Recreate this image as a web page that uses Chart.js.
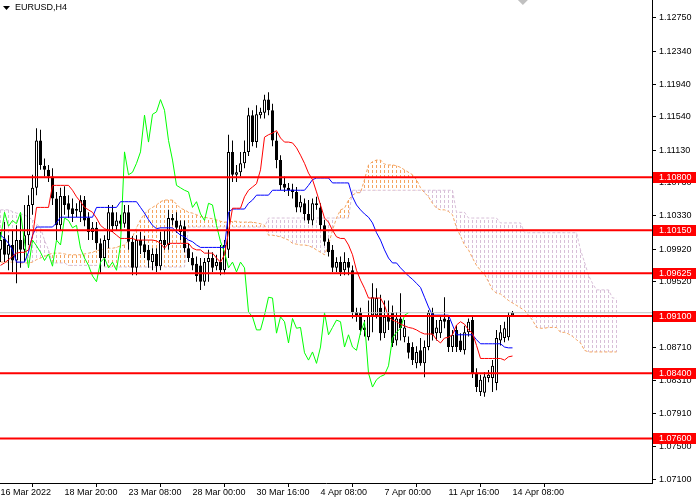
<!DOCTYPE html>
<html><head><meta charset="utf-8">
<script src="https://cdn.jsdelivr.net/npm/chart.js@4.4.1/dist/chart.umd.min.js"></script>
<style>html,body{margin:0;padding:0;background:#fff;overflow:hidden}canvas{display:block}</style>
</head><body>
<canvas id="c" width="700" height="500"></canvas>
<script>
// ---- data (EURUSD, H4) ----
const opens = [1.0991,1.1005,1.0985,1.0997,1.0978,1.1003,1.0991,1.1009,1.1046,1.1067,
 1.1125,1.1094,1.1089,1.1081,1.1054,1.1021,1.1057,1.1048,1.1042,1.1039,
 1.1037,1.1052,1.1030,1.1013,1.1018,1.0999,1.0981,1.1003,1.1037,1.1020,
 1.1027,1.1023,1.1037,1.1001,1.0969,1.1003,1.0998,1.0991,1.0976,1.0986,
 1.0971,1.1003,1.0997,1.1030,1.1027,1.1013,1.1020,1.0993,1.0981,1.0974,
 1.0972,1.0952,1.0976,1.0981,1.0971,1.0976,1.0966,1.0991,1.1111,1.1083,
 1.1086,1.1097,1.1111,1.1156,1.1123,1.1156,1.1159,1.1175,1.1162,1.1125,
 1.1101,1.1072,1.1067,1.1065,1.1062,1.1043,1.1048,1.1035,1.1027,1.1048,
 1.1043,1.1021,1.1001,1.0991,1.0969,1.0976,1.0966,1.0976,1.0966,1.0915,
 1.0914,1.0896,1.0884,1.0911,1.0911,1.0920,1.0889,1.0911,1.0914,1.0880,
 1.0907,1.0884,1.0877,1.0872,1.0852,1.0868,1.0852,1.0872,1.0914,1.0889,
 1.0889,1.0907,1.0905,1.0872,1.0893,1.0880,1.0868,1.0890,1.0905,1.0840,
 1.0817,1.0816,1.0834,1.0834,1.0828,1.0880,1.0883,1.0884,1.0911];
const highs = [1.1013,1.1025,1.1009,1.1015,1.1021,1.1034,1.1046,1.1058,1.1083,1.1140,
 1.1138,1.1103,1.1095,1.1091,1.1062,1.1067,1.1069,1.1058,1.1054,1.1048,
 1.1058,1.1057,1.1037,1.1025,1.1025,1.1005,1.1009,1.1046,1.1046,1.1037,
 1.1034,1.1046,1.1046,1.1008,1.1009,1.1013,1.1008,1.0997,1.0993,1.0993,
 1.1013,1.1015,1.1040,1.1035,1.1037,1.1027,1.1027,1.0999,1.0988,1.0983,
 1.0981,1.0981,1.0991,1.0988,1.0985,1.0997,1.1003,1.1132,1.1125,1.1095,
 1.1111,1.1125,1.1165,1.1162,1.1168,1.1165,1.1181,1.1184,1.1170,1.1135,
 1.1107,1.1081,1.1073,1.1072,1.1068,1.1058,1.1054,1.1052,1.1054,1.1056,
 1.1048,1.1028,1.1005,1.0997,1.0982,1.0983,1.0988,1.0981,1.0972,1.0920,
 1.0920,1.0905,1.0929,1.0950,1.0944,1.0936,1.0929,1.0929,1.0923,1.0915,
 1.0938,1.0905,1.0885,1.0878,1.0873,1.0883,1.0880,1.0917,1.0920,1.0905,
 1.0910,1.0933,1.0911,1.0893,1.0899,1.0889,1.0898,1.0907,1.0911,1.0846,
 1.0838,1.0841,1.0844,1.0856,1.0893,1.0899,1.0903,1.0915,1.0916];
const lows = [1.0976,1.0976,1.0966,1.0964,1.0950,1.0969,1.0976,1.0997,1.1034,1.1058,
 1.1089,1.1081,1.1074,1.1046,1.1003,1.1015,1.1034,1.1030,1.1025,1.1031,
 1.1025,1.1020,1.1003,1.1003,1.0991,1.0963,1.0971,1.0993,1.1013,1.1015,
 1.1015,1.1018,1.0991,1.0960,1.0960,1.0986,1.0981,1.0969,1.0966,1.0964,
 1.0966,1.0991,1.0991,1.1021,1.1012,1.1003,1.0988,1.0976,1.0966,1.0952,
 1.0942,1.0947,1.0952,1.0964,1.0966,1.0960,1.0961,1.0981,1.1074,1.1074,
 1.1081,1.1091,1.1106,1.1118,1.1116,1.1152,1.1152,1.1156,1.1118,1.1091,
 1.1064,1.1062,1.1057,1.1054,1.1037,1.1037,1.1027,1.1023,1.1021,1.1040,
 1.1015,1.0996,1.0983,1.0964,1.0964,1.0959,1.0960,1.0960,1.0907,1.0903,
 1.0887,1.0885,1.0880,1.0890,1.0907,1.0880,1.0883,1.0893,1.0872,1.0874,
 1.0880,1.0878,1.0858,1.0850,1.0846,1.0849,1.0835,1.0868,1.0880,1.0880,
 1.0883,1.0895,1.0866,1.0866,1.0866,1.0866,1.0863,1.0885,1.0834,1.0817,
 1.0812,1.0811,1.0829,1.0817,1.0819,1.0874,1.0878,1.0880,1.0910];
const closes = [1.1003,1.0985,1.0997,1.0978,1.1003,1.0991,1.1009,1.1046,1.1067,1.1125,
 1.1095,1.1089,1.1081,1.1054,1.1021,1.1057,1.1046,1.1040,1.1035,1.1041,
 1.1052,1.1027,1.1013,1.1018,1.0999,1.0981,1.1003,1.1037,1.1020,1.1027,
 1.1023,1.1037,1.1001,1.0969,1.1003,1.0996,1.0988,1.0978,1.0986,1.0971,
 1.1003,1.0997,1.1030,1.1027,1.1018,1.1021,1.0993,1.0981,1.0972,1.0959,
 1.0952,1.0976,1.0981,1.0969,1.0976,1.0966,1.0997,1.1111,1.1083,1.1086,
 1.1097,1.1111,1.1156,1.1123,1.1157,1.1160,1.1175,1.1162,1.1125,1.1101,
 1.1070,1.1067,1.1064,1.1062,1.1043,1.1050,1.1035,1.1027,1.1048,1.1046,
 1.1021,1.1001,1.0988,1.0969,1.0976,1.0964,1.0976,1.0969,1.0915,1.0909,
 1.0893,1.0893,1.0911,1.0933,1.0932,1.0889,1.0909,1.0903,1.0877,1.0907,
 1.0895,1.0896,1.0865,1.0856,1.0866,1.0852,1.0872,1.0914,1.0887,1.0896,
 1.0905,1.0903,1.0872,1.0887,1.0872,1.0868,1.0890,1.0903,1.0840,1.0823,
 1.0832,1.0836,1.0838,1.0849,1.0883,1.0890,1.0895,1.0911,1.0914];
const tenkan = [1.0972,1.0975,1.0979,1.0983,1.0987,1.0988,1.0988,1.0991,1.1007,1.1043,
 1.1043,1.1043,1.1043,1.1070,1.1070,1.1070,1.1070,1.1070,1.1064,1.1056,
 1.1050,1.1043,1.1040,1.1037,1.1030,1.1021,1.1017,1.1015,1.1013,1.1009,
 1.1005,1.1005,1.1005,1.1005,1.1003,1.1003,1.1003,1.1003,1.1003,1.1002,
 1.0999,1.0993,1.0999,1.0999,1.0999,1.0999,1.0999,1.0999,1.0993,1.0991,
 1.0991,1.0987,1.0987,1.0987,1.0981,1.0976,1.0985,1.1013,1.1042,1.1042,
 1.1042,1.1056,1.1064,1.1068,1.1072,1.1089,1.1129,1.1132,1.1134,1.1137,
 1.1128,1.1123,1.1123,1.1122,1.1116,1.1107,1.1097,1.1085,1.1077,1.1062,
 1.1046,1.1030,1.1025,1.1015,1.1007,1.1005,1.1005,1.0997,1.0985,1.0966,
 1.0954,1.0944,1.0932,1.0932,1.0932,1.0932,1.0923,1.0909,1.0905,1.0903,
 1.0900,1.0898,1.0896,1.0895,1.0893,1.0890,1.0888,1.0888,1.0888,1.0881,
 1.0877,1.0883,1.0884,1.0887,1.0899,1.0903,1.0900,1.0893,1.0889,1.0874,
 1.0858,1.0858,1.0858,1.0858,1.0858,1.0858,1.0856,1.0860,1.0861];
const kijun = [1.1009,1.1005,1.0999,1.0991,1.0976,1.0976,1.0976,1.0988,1.1009,1.1019,
 1.1019,1.1019,1.1019,1.1019,1.1024,1.1031,1.1031,1.1031,1.1031,1.1031,
 1.1031,1.1031,1.1031,1.1031,1.1043,1.1043,1.1043,1.1043,1.1043,1.1043,
 1.1050,1.1050,1.1050,1.1050,1.1050,1.1043,1.1036,1.1028,1.1021,1.1017,
 1.1018,1.1018,1.1018,1.1018,1.1013,1.1009,1.1007,1.1003,1.1001,1.0997,
 1.0994,1.0994,1.0994,1.0994,1.0994,1.0994,1.0994,1.1037,1.1041,1.1041,
 1.1041,1.1041,1.1048,1.1052,1.1058,1.1058,1.1058,1.1058,1.1064,1.1064,
 1.1064,1.1064,1.1064,1.1064,1.1064,1.1064,1.1064,1.1070,1.1077,1.1079,
 1.1079,1.1079,1.1079,1.1073,1.1073,1.1073,1.1073,1.1073,1.1056,1.1046,
 1.1040,1.1035,1.1031,1.1024,1.1012,1.1003,1.0991,1.0981,1.0975,1.0975,
 1.0969,1.0964,1.0959,1.0955,1.0950,1.0945,1.0933,1.0921,1.0911,1.0911,
 1.0911,1.0911,1.0911,1.0899,1.0887,1.0887,1.0887,1.0887,1.0887,1.0881,
 1.0876,1.0876,1.0876,1.0876,1.0876,1.0876,1.0872,1.0871,1.0871];
const senkouA = [1.0976,1.0976,1.0976,1.0976,1.0976,1.0975,1.0975,1.0975,1.0976,1.0979,
 1.0981,1.0983,1.0985,1.0987,1.0987,1.0987,1.0986,1.0985,1.0985,1.0985,
 1.0985,1.0986,1.0987,1.0988,1.0990,1.0991,1.0992,1.0993,1.0993,1.0994,
 1.0996,1.0997,1.1002,1.1007,1.1018,1.1028,1.1035,1.1040,1.1043,1.1046,
 1.1050,1.1052,1.1052,1.1052,1.1047,1.1042,1.1040,1.1037,1.1036,1.1034,
 1.1032,1.1031,1.1030,1.1029,1.1028,1.1026,1.1025,1.1025,1.1026,1.1026,
 1.1025,1.1025,1.1025,1.1025,1.1024,1.1023,1.1021,1.1009,1.1009,1.1008,
 1.1007,1.1005,1.1003,1.0999,1.0998,1.0997,1.0997,1.0996,1.0994,1.0991,
 1.0988,1.0985,1.0997,1.1015,1.1030,1.1040,1.1042,1.1052,1.1058,1.1061,
 1.1061,1.1077,1.1095,1.1099,1.1101,1.1101,1.1096,1.1095,1.1095,1.1094,
 1.1092,1.1089,1.1086,1.1083,1.1077,1.1067,1.1061,1.1056,1.1048,1.1042,
 1.1040,1.1040,1.1038,1.1034,1.1018,1.1008,1.0997,1.0991,1.0981,1.0972,
 1.0966,1.0961,1.0952,1.0942,1.0938,1.0937,1.0933,1.0929,1.0926,1.0923,
 1.0920,1.0917,1.0911,1.0905,1.0896,1.0895,1.0895,1.0896,1.0896,1.0896,
 1.0890,1.0890,1.0888,1.0885,1.0881,1.0877,1.0868,1.0866,1.0866,1.0866,
 1.0866,1.0866,1.0866,1.0866,1.0866];
const senkouB = [1.1040,1.1040,1.1040,1.1038,1.1036,1.1035,1.1034,1.1031,1.1028,1.1023,
 1.1018,1.1003,1.0991,1.0975,1.0975,1.0975,1.0975,1.0972,1.0972,1.0972,
 1.0972,1.0972,1.0972,1.0972,1.0972,1.0972,1.0970,1.0970,1.0970,1.0970,
 1.0970,1.0970,1.0970,1.0970,1.0970,1.0970,1.0970,1.0970,1.0970,1.0970,
 1.0970,1.0970,1.0970,1.0970,1.0970,1.0970,1.0970,1.1019,1.1019,1.1019,
 1.1019,1.1019,1.1019,1.1019,1.1019,1.1019,1.1019,1.1019,1.1019,1.1019,
 1.1019,1.1019,1.1019,1.1019,1.1019,1.1019,1.1019,1.1030,1.1030,1.1030,
 1.1030,1.1030,1.1030,1.1030,1.1030,1.1030,1.1030,1.1030,1.1030,1.1030,
 1.1030,1.1030,1.1030,1.1030,1.1030,1.1030,1.1030,1.1030,1.1064,1.1064,
 1.1064,1.1064,1.1064,1.1064,1.1064,1.1064,1.1064,1.1064,1.1064,1.1064,
 1.1064,1.1064,1.1064,1.1064,1.1064,1.1064,1.1064,1.1064,1.1064,1.1064,
 1.1064,1.1064,1.1064,1.1064,1.1037,1.1037,1.1037,1.1030,1.1030,1.1030,
 1.1030,1.1030,1.1030,1.1030,1.1030,1.1024,1.1024,1.1024,1.1024,1.1024,
 1.1024,1.1012,1.1012,1.1012,1.1012,1.1012,1.1012,1.1012,1.1012,1.1012,
 1.1012,1.1012,1.1012,1.1012,1.1012,1.0991,1.0976,1.0960,1.0950,1.0942,
 1.0942,1.0942,1.0942,1.0932,1.0932];
const xTickLabels = ["16 Mar 2022","18 Mar 20:00","23 Mar 08:00","28 Mar 00:00","30 Mar 16:00","4 Apr 08:00","7 Apr 00:00","11 Apr 16:00","14 Apr 08:00"];
const xTickBars = [0,16,32,48,64,80,96,112,128];
const yTickValues = [1.12750,1.12340,1.11940,1.11540,1.11130,1.10730,1.10330,1.09920,1.09520,1.09110,1.08710,1.08310,1.07910,1.07500,1.07100];
const levels = [1.10800,1.10150,1.09625,1.09100,1.08400,1.07600];
const chikouShift = 26;
const symbolTitle = "EURUSD,H4";

// ---- helpers ----
function hatch(color){
  const c = document.createElement('canvas'); c.width = 1; c.height = 5;
  const g = c.getContext('2d'); g.fillStyle = color; g.fillRect(0,0,1,3);
  return g.createPattern(c,'repeat');
}
const FONT = 'Liberation Sans';
const idx = closes.map((_, i) => i);
const wickData = idx.map(i => ({x:i, y:[lows[i], highs[i]]}));
const bodyData = idx.map(i => ({x:i, y:[Math.min(opens[i],closes[i]), Math.max(opens[i],closes[i])]}));
const bodyColors = idx.map(i => closes[i] >= opens[i] ? '#ffffff' : '#000000');
const kumoUp = [], kumoDown = [];
senkouA.forEach((a,i) => { const b = senkouB[i];
  if (a > b) kumoUp.push({x:i, y:[b,a]}); else if (b > a) kumoDown.push({x:i, y:[a,b]}); });
const pts = arr => arr.map((v,i) => ({x:i, y:v}));
const chikouData = closes.map((v,i) => ({x:i - chikouShift, y:v})).filter(p => p.x >= 0);
const lastClose = closes[closes.length-1];
const hLine = v => [{x:-5, y:v},{x:200, y:v}];

const barBase = {type:'bar', grouped:false, inflateAmount:0, borderSkipped:false};
const lineBase = {type:'line', pointRadius:0, tension:0, fill:false, borderCapStyle:'butt'};

const datasets = [
  {...barBase, label:'Kumo up', data:kumoUp, backgroundColor:hatch('#f4a460'), barThickness:1, borderWidth:0, order:30},
  {...barBase, label:'Kumo down', data:kumoDown, backgroundColor:hatch('#d8bfd8'), barThickness:1, borderWidth:0, order:30},
  {...lineBase, label:'Senkou A', data:pts(senkouA), borderColor:'#f4a460', borderWidth:1, borderDash:[3,2], order:29},
  {...lineBase, label:'Senkou B', data:pts(senkouB), borderColor:'#d8bfd8', borderWidth:1, borderDash:[3,2], order:29},
  {...barBase, label:'wick', data:wickData, backgroundColor:'#000000', barThickness:1, borderWidth:0, order:20},
  {...barBase, label:'body', data:bodyData, backgroundColor:bodyColors, borderColor:'#000000', borderWidth:1, barThickness:3, order:19},
  {...lineBase, label:'Tenkan', data:pts(tenkan), borderColor:'#ff0000', borderWidth:1, order:10},
  {...lineBase, label:'Kijun', data:pts(kijun), borderColor:'#0000ff', borderWidth:1, order:10},
  {...lineBase, label:'Chikou', data:chikouData, borderColor:'#00ff00', borderWidth:1, order:10},
  {...lineBase, label:'Bid', data:hLine(lastClose), borderColor:'#c0c0c0', borderWidth:1, order:5},
  ...levels.map(l => ({...lineBase, label:'L'+l, data:hLine(l), borderColor:'#ff0000', borderWidth:2, order:2}))
];

const overlay = {
  id:'overlay',
  afterDraw(chart){
    const ctx = chart.ctx, ys = chart.scales.y, xs = chart.scales.x, ca = chart.chartArea;
    ctx.save();
    // level labels on the price axis
    ctx.font = '9px "' + FONT + '"';
    ctx.textBaseline = 'middle'; ctx.textAlign = 'left';
    levels.forEach(l => {
      const y = Math.round(ys.getPixelForValue(l));
      ctx.fillStyle = '#ff0000';
      ctx.fillRect(ca.right + 1, y - 5, 43, 11);
      ctx.fillStyle = '#ffffff';
      ctx.fillText(l.toFixed(5), ca.right + 7, y + 0.5);
    });
    // title
    ctx.fillStyle = '#000000';
    ctx.beginPath(); ctx.moveTo(3,6); ctx.lineTo(10,6); ctx.lineTo(6.5,10); ctx.closePath(); ctx.fill();
    ctx.fillText(symbolTitle, 15, 8);
    // chart-shift marker
    const sx = xs.getPixelForValue(closes.length + 1.6);
    ctx.fillStyle = '#c0c0c0';
    ctx.beginPath(); ctx.moveTo(sx-5,0); ctx.lineTo(sx+5,0); ctx.lineTo(sx,5); ctx.closePath(); ctx.fill();
    ctx.restore();
  }
};

new Chart(document.getElementById('c'), {
  type:'line',
  data:{datasets},
  options:{
    responsive:false, animation:false, devicePixelRatio:1, events:[],
    layout:{padding:0},
    plugins:{legend:{display:false}, tooltip:{enabled:false}},
    scales:{
      x:{type:'linear', position:'bottom', min:-0.125, max:162.875, offset:false,
        afterBuildTicks: s => { s.ticks = xTickBars.map(v => ({value:v})); },
        afterFit: s => { s.height = 17; s.paddingLeft = 0; s.paddingRight = 0; },
        ticks:{autoSkip:false, maxRotation:0, minRotation:0, align:'start', padding:0, color:'#000000',
          font:{family:FONT, size:9}, callback:(v,i) => xTickLabels[i]},
        grid:{drawOnChartArea:false, drawTicks:true, tickLength:4, color:'#000000'},
        border:{display:true, color:'#000000', width:1}
      },
      y:{type:'linear', position:'right', min:1.07055, max:1.12970,
        afterBuildTicks: s => { s.ticks = yTickValues.map(v => ({value:v})); },
        afterFit: s => { s.width = 48; s.paddingTop = 0; s.paddingBottom = 0; },
        ticks:{padding:3, color:'#000000', font:{family:FONT, size:9}, callback: v => Number(v).toFixed(5)},
        grid:{drawOnChartArea:false, drawTicks:true, tickLength:4, color:'#000000'},
        border:{display:true, color:'#000000', width:1}
      }
    }
  },
  plugins:[overlay]
});
</script>
</body></html>
